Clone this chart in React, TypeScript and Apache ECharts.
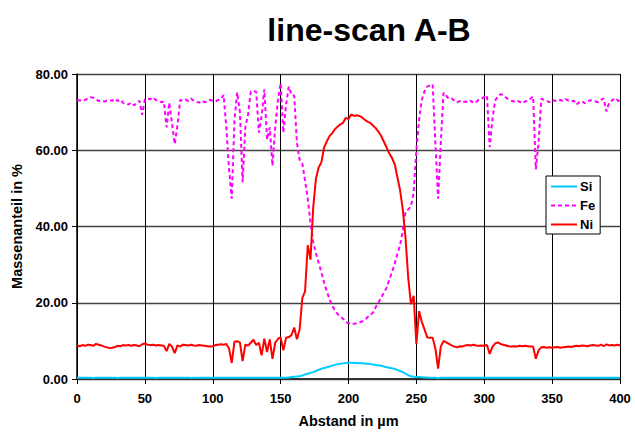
import React, { useEffect, useRef } from "react";
import * as echarts from "echarts";

const TITLE = "line-scan A-B";
const X_NAME = "Abstand in µm";
const Y_NAME = "Massenanteil in %";
const SERIES_NAMES = ["Si", "Fe", "Ni"];
const X_START = 0;
const X_STEP = 2; // µm between measurement points

const siValues = [
  0.3, 0.3, 0.3, 0.35, 0.3, 0.3, 0.25, 0.3, 0.3, 0.3, 0.3, 0.35, 0.3, 0.3, 0.3, 0.25, 0.3, 0.3, 0.3, 0.3,
  0.3, 0.3, 0.3, 0.35, 0.3, 0.3, 0.3, 0.3, 0.3, 0.25, 0.3, 0.3, 0.3, 0.3, 0.3, 0.35, 0.3, 0.3, 0.3, 0.3,
  0.3, 0.3, 0.25, 0.3, 0.3, 0.3, 0.3, 0.3, 0.3, 0.35, 0.3, 0.3, 0.3, 0.3, 0.3, 0.3, 0.3, 0.3, 0.3, 0.3,
  0.3, 0.3, 0.3, 0.3, 0.3, 0.3, 0.3, 0.3, 0.3, 0.3, 0.3, 0.3, 0.3, 0.3, 0.3, 0.35, 0.3, 0.3, 0.4, 0.5,
  0.6, 0.65, 0.7, 0.9, 1.2, 1.4, 1.6, 1.8, 2.1, 2.4, 2.7, 2.9, 3.1, 3.3, 3.5, 3.7, 3.9, 4.0, 4.1, 4.2,
  4.25, 4.25, 4.2, 4.2, 4.15, 4.1, 4.05, 4.0, 3.9, 3.8, 3.7, 3.6, 3.45, 3.3, 3.1, 2.95, 2.8, 2.6, 2.4, 2.1,
  1.8, 1.4, 1.0, 0.7, 0.6, 0.5, 0.5, 0.45, 0.4, 0.4, 0.35, 0.3, 0.3, 0.2, 0.3, 0.3, 0.3, 0.3, 0.3, 0.3,
  0.3, 0.3, 0.3, 0.3, 0.3, 0.3, 0.3, 0.3, 0.3, 0.3, 0.3, 0.3, 0.3, 0.3, 0.3, 0.3, 0.3, 0.3, 0.3, 0.3,
  0.3, 0.3, 0.3, 0.3, 0.3, 0.3, 0.3, 0.3, 0.3, 0.3, 0.3, 0.3, 0.3, 0.3, 0.3, 0.3, 0.3, 0.3, 0.3, 0.3,
  0.3, 0.3, 0.3, 0.3, 0.3, 0.3, 0.3, 0.3, 0.3, 0.3, 0.3, 0.3, 0.3, 0.3, 0.3, 0.3, 0.3, 0.3, 0.3, 0.3,
  0.3,
];

const feValues = [
  73.0, 73.1, 73.0, 73.2, 73.6, 73.9, 73.8, 73.4, 72.9, 73.0, 72.8, 73.0, 73.1, 73.0, 73.5, 72.9, 73.3, 72.4, 72.3, 72.0,
  72.5, 71.8, 72.3, 73.0, 69.3, 73.3, 73.6, 73.4, 73.9, 73.2, 73.0, 72.6, 72.8, 66.0, 72.5, 67.0, 61.6, 66.5, 73.2, 73.0,
  73.3, 72.9, 73.6, 73.0, 72.7, 72.5, 73.0, 72.6, 72.8, 73.2, 73.0, 72.8, 73.2, 73.4, 74.5, 66.0, 55.0, 47.3, 68.0, 75.2,
  70.0, 51.6, 66.0, 69.3, 75.4, 75.6, 75.3, 64.6, 69.0, 76.0, 62.8, 66.0, 55.9, 66.0, 73.0, 77.6, 64.6, 72.0, 76.7, 74.5,
  74.3, 62.0, 57.5, 56.5, 52.0, 47.3, 41.0, 36.0, 33.0, 30.5, 28.0, 25.3, 23.0, 21.0, 19.2, 18.0, 17.0, 16.4, 15.8, 15.0,
  14.6, 14.4, 14.5, 14.6, 14.9, 15.1, 15.5, 16.2, 16.8, 17.4, 18.8, 20.0, 21.3, 22.6, 23.9, 26.0, 28.0, 30.2, 32.8, 35.1,
  39.0, 43.8, 44.5, 45.2, 49.0, 60.0, 68.0, 73.2, 75.5, 76.7, 77.0, 77.3, 62.0, 47.3, 62.0, 75.1, 74.3, 73.5, 73.6, 73.0,
  72.6, 72.9, 72.5, 72.8, 72.6, 73.0, 72.4, 72.7, 73.2, 73.5, 74.0, 74.4, 60.8, 68.0, 73.0, 74.2, 74.7, 74.5, 73.8, 73.3,
  73.0, 72.8, 73.1, 72.7, 72.3, 72.8, 73.0, 73.5, 74.1, 55.0, 62.0, 73.5, 73.2, 73.0, 72.6, 73.2, 73.0, 72.8, 73.2, 72.9,
  73.4, 73.0, 72.8, 73.0, 72.0, 72.6, 72.9, 72.3, 72.8, 73.1, 73.0, 72.8, 72.6, 73.2, 73.6, 70.2, 72.5, 73.0, 73.7, 73.2,
  72.6,
];

const niValues = [
  8.8, 8.6, 8.9, 8.7, 9.0, 8.9, 8.7, 9.2, 9.0, 8.8, 8.5, 8.3, 8.1, 8.2, 8.4, 8.7, 8.6, 8.9, 8.8, 8.9,
  8.7, 8.9, 8.8, 8.6, 9.1, 9.3, 9.0, 8.9, 9.0, 8.8, 8.9, 8.8, 8.7, 7.3, 9.2, 8.5, 6.8, 8.8, 8.5, 9.0,
  8.9, 8.8, 9.0, 8.8, 8.7, 8.9, 8.8, 8.7, 8.6, 8.5, 8.6, 8.9, 9.0, 9.1, 9.0, 9.2, 8.0, 4.2, 9.8, 9.9,
  9.6, 4.7, 9.0, 8.8, 9.5, 10.3, 8.9, 9.5, 6.2, 10.6, 7.1, 10.4, 5.3, 9.5, 10.5, 10.9, 7.5, 10.8, 11.0, 11.5,
  13.5, 10.4, 13.0, 21.3, 23.0, 35.1, 31.3, 45.0, 52.5, 55.5, 56.8, 60.7, 62.3, 63.7, 64.5, 65.5, 66.2, 66.8, 67.2, 68.5,
  68.2, 69.4, 69.0, 69.2, 69.0, 68.6, 68.0, 67.5, 67.2, 66.5, 65.8, 64.9, 63.8, 62.3, 60.8, 59.2, 58.0, 56.4, 53.0, 49.5,
  44.5, 37.0, 26.5, 19.6, 21.8, 9.2, 17.8, 15.0, 13.0, 10.9, 10.8, 10.8, 8.0, 2.7, 8.5, 10.0, 9.6, 9.2, 8.8, 8.5,
  8.3, 8.6, 8.5, 8.8, 8.9, 8.8, 9.0, 8.8, 8.7, 8.8, 8.7, 8.9, 6.6, 8.4, 9.3, 9.6, 9.2, 9.0, 8.8, 8.6,
  8.5, 8.6, 8.5, 8.7, 8.6, 8.7, 8.6, 8.5, 8.5, 5.3, 7.5, 8.3, 8.4, 8.2, 8.3, 8.2, 8.3, 8.4, 8.2, 8.3,
  8.4, 8.5, 8.4, 8.6, 8.7, 8.6, 8.8, 8.7, 8.6, 8.8, 8.9, 8.8, 8.7, 9.0, 8.6, 9.1, 8.8, 8.9, 8.8, 9.0,
  8.8,
];

const FONT = 'Arial, "Liberation Sans", sans-serif';

function toPairs(values: number[]) {
  return values.map((v, i) => [X_START + i * X_STEP, v]);
}

export default function App() {
  const ref = useRef<HTMLDivElement>(null);

  useEffect(() => {
    document.body.style.margin = "0";
    if (!ref.current) return;
    const chart = echarts.init(ref.current, undefined, { renderer: "svg" });
    chart.setOption({
      animation: false,
      backgroundColor: "#ffffff",
      title: {
        text: TITLE,
        left: 364,
        top: 9,
        textAlign: "center",
        textStyle: { fontFamily: FONT, fontWeight: "bold", fontSize: 32, color: "#000" },
      },
      legend: {
        orient: "vertical",
        left: 546,
        top: 176,
        data: SERIES_NAMES,
        backgroundColor: "#ffffff",
        borderColor: "#000",
        borderWidth: 1,
        padding: [4, 5, 3, 4],
        itemGap: 6,
        itemWidth: 26,
        itemHeight: 12,
        itemStyle: { opacity: 0 },
        textStyle: { fontFamily: FONT, fontWeight: "bold", fontSize: 13, color: "#000", padding: [0, 0, 0, -2] },
      },
      grid: { left: 77, right: 15, top: 74, bottom: 51, containLabel: false },
      xAxis: {
        type: "value",
        min: 0,
        max: 400,
        interval: 50,
        name: X_NAME,
        nameLocation: "middle",
        nameGap: 34,
        nameTextStyle: { fontFamily: FONT, fontWeight: "bold", fontSize: 14.5, color: "#000" },
        axisLine: { show: true, onZero: false, lineStyle: { color: "#333", width: 2 } },
        axisTick: { show: true, length: 5, lineStyle: { color: "#000" } },
        axisLabel: { fontFamily: FONT, fontWeight: "bold", fontSize: 13, color: "#000", margin: 13 },
        splitLine: { show: true, lineStyle: { color: "#000", width: 1 } },
      },
      yAxis: {
        type: "value",
        min: 0,
        max: 80,
        interval: 20,
        name: Y_NAME,
        nameLocation: "middle",
        nameGap: 49,
        nameRotate: 90,
        nameTextStyle: { fontFamily: FONT, fontWeight: "bold", fontSize: 14.5, color: "#000" },
        axisLine: { show: true, lineStyle: { color: "#000", width: 1.5 } },
        axisTick: { show: true, length: 5, lineStyle: { color: "#000" } },
        axisLabel: {
          fontFamily: FONT,
          fontWeight: "bold",
          fontSize: 13,
          color: "#000",
          margin: 9,
          formatter: (v: number) => v.toFixed(2),
        },
        splitLine: { show: true, lineStyle: { color: "#444", width: 1.3 } },
      },
      series: [
        {
          name: "Si",
          type: "line",
          data: toPairs(siValues),
          symbol: "none",
          lineStyle: { color: "#00CCFF", width: 2 },
          itemStyle: { color: "#00CCFF" },
          z: 3,
        },
        {
          name: "Fe",
          type: "line",
          data: toPairs(feValues),
          symbol: "none",
          lineStyle: { color: "#FF00FF", width: 2, type: [4, 3] },
          itemStyle: { color: "#FF00FF" },
          z: 2,
        },
        {
          name: "Ni",
          type: "line",
          data: toPairs(niValues),
          symbol: "none",
          lineStyle: { color: "#FF0000", width: 2 },
          itemStyle: { color: "#FF0000" },
          z: 4,
        },
      ],
    });
    return () => chart.dispose();
  }, []);

  return <div ref={ref} style={{ width: 635, height: 433 }} />;
}
